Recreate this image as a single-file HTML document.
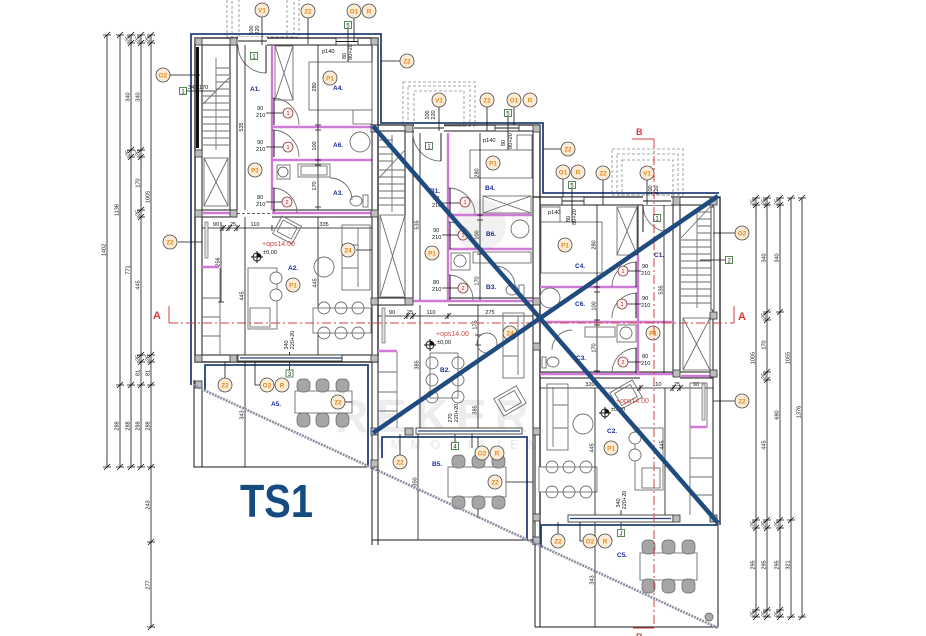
<!DOCTYPE html>
<html><head><meta charset="utf-8">
<style>
html,body{margin:0;padding:0;background:#fff}
svg{display:block;font-family:"Liberation Sans",Arial,sans-serif}
.w{stroke:#1a1a1a;stroke-width:1;fill:none}
.w2{stroke:#1a1a1a;stroke-width:1.3;fill:none}
.p{stroke:#cf7ad6;stroke-width:2.4;fill:none}
.f{stroke:#6e6e6e;stroke-width:.9;fill:none}
.ff{stroke:#6e6e6e;stroke-width:.9;fill:#fff}
.col{fill:#bdbdbd;stroke:#333;stroke-width:.8}
.nv{stroke:#24407a;stroke-width:1.8;fill:none}
.d{stroke:#111;stroke-width:.8;fill:none}
.gd{stroke:#8a8a8a;stroke-dasharray:3 2;fill:none;stroke-width:.8}
.lb circle{fill:#fcecd6;stroke:#4a4a4a;stroke-width:.8}
.lb text{fill:#e38a1c;font-size:6.3px;font-weight:bold;text-anchor:middle}
.dn circle{fill:#fdf0ec;stroke:#8b3a3a;stroke-width:.8}
.dn text{fill:#a03030;font-size:5.5px;text-anchor:middle}
.rm{fill:#1d2b9a;font-size:6.5px;font-weight:bold}
.dt{font-size:5.6px;fill:#111}
.dtr{font-size:5.6px;fill:#111;text-anchor:middle}
.ch{fill:#a6a6a6;stroke:#666;stroke-width:.7}
.bx rect{fill:#fff;stroke:#2a6a2a;stroke-width:.8}
.bx text{font-size:6px;fill:#222;text-anchor:middle}
.red{fill:#d24a4a;font-size:7px}
.win{fill:#fff;stroke:#222;stroke-width:.8}
</style></head><body>
<svg width="926" height="636" viewBox="0 0 926 636" xmlns="http://www.w3.org/2000/svg">
<rect width="926" height="636" fill="#fff"/>

<!-- watermark -->
<g fill="#ededed" font-weight="bold">
<circle cx="480" cy="225" r="26" fill="#f1f1f1"/>
<text x="335" y="432" font-size="46" letter-spacing="8">REKER</text>
<text x="378" y="449" font-size="13" letter-spacing="9">IMMOBILIEN</text>
</g>

<!-- ============ LEFT DIMENSIONS ============ -->
<g class="d">
<line x1="107" y1="35" x2="107" y2="467"/>
<line x1="120" y1="35" x2="120" y2="467"/>
<line x1="131" y1="35" x2="131" y2="467"/>
<line x1="141" y1="35" x2="141" y2="467"/>
<line x1="151" y1="35" x2="151" y2="627"/>
<path d="M103,35h8M104,38l6,-6M103,467h8M104,470l6,-6
M116,35h8M117,38l6,-6M116,385h8M117,388l6,-6M116,467h8M117,470l6,-6
M127,35h8M128,38l6,-6M127,43h8M128,46l6,-6M127,150h8M128,153l6,-6M127,157h8M128,160l6,-6M127,385h8M128,388l6,-6M127,467h8M128,470l6,-6
M137,35h8M138,38l6,-6M137,43h8M138,46l6,-6M137,150h8M138,153l6,-6M137,157h8M138,160l6,-6M137,210h8M138,213l6,-6M137,217h8M138,220l6,-6M137,355h8M138,358l6,-6M137,362h8M138,365l6,-6M137,385h8M138,388l6,-6M137,467h8M138,470l6,-6
M147,35h8M148,38l6,-6M147,43h8M148,46l6,-6M147,355h8M148,358l6,-6M147,362h8M148,365l6,-6M147,385h8M148,388l6,-6M147,467h8M148,470l6,-6M147,542h8M148,545l6,-6M147,627h8M148,630l6,-6"/>
</g>
<g class="dtr">
<text transform="translate(105.5,250) rotate(-90)">1402</text>
<text transform="translate(118.5,210) rotate(-90)">1136</text>
<text transform="translate(118.5,426) rotate(-90)">288</text>
<text transform="translate(129.5,39) rotate(-90)">25</text>
<text transform="translate(129.5,97) rotate(-90)">340</text>
<text transform="translate(129.5,153) rotate(-90)">25</text>
<text transform="translate(129.5,270) rotate(-90)">771</text>
<text transform="translate(129.5,426) rotate(-90)">288</text>
<text transform="translate(139.5,39) rotate(-90)">25</text>
<text transform="translate(139.5,97) rotate(-90)">340</text>
<text transform="translate(139.5,153) rotate(-90)">25</text>
<text transform="translate(139.5,183) rotate(-90)">170</text>
<text transform="translate(139.5,213) rotate(-90)">25</text>
<text transform="translate(139.5,285) rotate(-90)">445</text>
<text transform="translate(139.5,358) rotate(-90)">25</text>
<text transform="translate(139.5,373) rotate(-90)">81</text>
<text transform="translate(139.5,426) rotate(-90)">288</text>
<text transform="translate(149.5,39) rotate(-90)">25</text>
<text transform="translate(149.5,197) rotate(-90)">1005</text>
<text transform="translate(149.5,358) rotate(-90)">25</text>
<text transform="translate(149.5,373) rotate(-90)">81</text>
<text transform="translate(149.5,426) rotate(-90)">288</text>
<text transform="translate(149.5,505) rotate(-90)">243</text>
<text transform="translate(149.5,585) rotate(-90)">277</text>
</g>

<!-- ============ RIGHT DIMENSIONS ============ -->
<g class="d">
<line x1="756" y1="198" x2="756" y2="617"/>
<line x1="767" y1="198" x2="767" y2="617"/>
<line x1="780" y1="198" x2="780" y2="617"/>
<line x1="791" y1="198" x2="791" y2="617"/>
<line x1="802" y1="198" x2="802" y2="617"/>
<path d="M752,198h8M753,201l6,-6M752,205h8M753,208l6,-6M752,520h8M753,523l6,-6M752,528h8M753,531l6,-6M752,610h8M753,613l6,-6M752,617h8M753,620l6,-6
M763,198h8M764,201l6,-6M763,205h8M764,208l6,-6M763,312h8M764,315l6,-6M763,320h8M764,323l6,-6M763,372h8M764,375l6,-6M763,380h8M764,383l6,-6M763,520h8M764,523l6,-6M763,528h8M764,531l6,-6M763,610h8M764,613l6,-6M763,617h8M764,620l6,-6
M776,198h8M777,201l6,-6M776,205h8M777,208l6,-6M776,312h8M777,315l6,-6M776,520h8M777,523l6,-6M776,528h8M777,531l6,-6M776,610h8M777,613l6,-6M776,617h8M777,620l6,-6
M787,198h8M788,201l6,-6M787,520h8M788,523l6,-6M787,617h8M788,620l6,-6
M798,198h8M799,201l6,-6M798,617h8M799,620l6,-6"/>
</g>
<g class="dtr">
<text transform="translate(754.5,202) rotate(-90)">25</text>
<text transform="translate(754.5,358) rotate(-90)">1005</text>
<text transform="translate(754.5,524) rotate(-90)">25</text>
<text transform="translate(754.5,565) rotate(-90)">295</text>
<text transform="translate(754.5,614) rotate(-90)">25</text>
<text transform="translate(765.5,202) rotate(-90)">25</text>
<text transform="translate(765.5,258) rotate(-90)">340</text>
<text transform="translate(765.5,316) rotate(-90)">25</text>
<text transform="translate(765.5,345) rotate(-90)">170</text>
<text transform="translate(765.5,376) rotate(-90)">25</text>
<text transform="translate(765.5,445) rotate(-90)">445</text>
<text transform="translate(765.5,524) rotate(-90)">25</text>
<text transform="translate(765.5,565) rotate(-90)">295</text>
<text transform="translate(765.5,614) rotate(-90)">25</text>
<text transform="translate(778.5,202) rotate(-90)">25</text>
<text transform="translate(778.5,258) rotate(-90)">340</text>
<text transform="translate(778.5,415) rotate(-90)">680</text>
<text transform="translate(778.5,524) rotate(-90)">25</text>
<text transform="translate(778.5,565) rotate(-90)">295</text>
<text transform="translate(778.5,614) rotate(-90)">25</text>
<text transform="translate(789.5,358) rotate(-90)">1055</text>
<text transform="translate(789.5,565) rotate(-90)">321</text>
<text transform="translate(800.5,412) rotate(-90)">1376</text>
</g>

<!-- ============ TOP DASHED TERRACES ============ -->
<rect class="gd" x="227" y="-10" width="72" height="47"/>
<rect class="gd" x="232" y="-6" width="62" height="43"/>
<rect class="gd" x="239" y="-2" width="48" height="39"/>
<rect class="gd" x="403" y="82" width="72" height="44"/>
<rect class="gd" x="408" y="86" width="62" height="40"/>
<rect class="gd" x="414" y="91" width="50" height="35"/>
<rect class="gd" x="612" y="149" width="71" height="46"/>
<rect class="gd" x="617" y="154" width="61" height="41"/>
<rect class="gd" x="622" y="160" width="51" height="35"/>

<!-- navy outline -->
<polyline class="nv" points="191,385 191,34 381,34 381,123 543,123 543,193 719,193"/>

<!-- ============ UNIT A ============ -->
<rect class="w2" x="195" y="38" width="183" height="324"/>
<rect class="w" x="202" y="45" width="170" height="310"/>
<rect x="238" y="37" width="29" height="9" fill="#fff"/>
<line class="w" x1="238" y1="41" x2="267" y2="41"/>
<rect class="win" x="336" y="38" width="22" height="7"/>
<line class="w" x1="336" y1="41.5" x2="358" y2="41.5"/>
<!-- walls -->
<path class="w" d="M230,45V210M237,45V210M202,210H237M272,210H372M202,217H237M272,217H372"/>
<path d="M237,213.5H272" stroke="#333" stroke-width=".7" stroke-dasharray="3 2"/>
<path class="p" d="M272,46V210M272,127H372M272,160H372M272,213H372M203,213H230"/>
<!-- stairs A -->
<path class="f" d="M203,96H229M203,103H229M203,110H229M203,117H229M203,124H229M203,131H229M203,138H229M203,145H229M216,68H229M216,75H229M216,82H229M216,89H229M203,104L229,78M216,58V150"/>
<rect class="f" x="204" y="158" width="24" height="48"/>
<path class="f" d="M204,158L228,206M228,158L204,206"/>
<line x1="197.5" y1="47" x2="197.5" y2="148" stroke="#111" stroke-width="3"/>
<!-- doors A -->
<path class="f" d="M272,98A27,27 0 0 1 299,125M272,130A27,27 0 0 1 299,157M272,188A25,25 0 0 1 297,213M238,45A28,28 0 0 0 266,73"/>
<path class="w" d="M274,98V125M274,130V157M274,188V212M266,45V73"/>
<!-- A4 -->
<rect class="f" x="309" y="62" width="63" height="48"/>
<rect class="f" x="353" y="110" width="19" height="14"/>
<rect class="f" x="275" y="46" width="18" height="54"/>
<path class="f" d="M275,46L293,100M293,46L275,100"/>
<line class="d" x1="318" y1="45" x2="318" y2="210"/>
<path class="d" d="M315,125h6M315,130h6M315,160h6M315,165h6M315,207h6"/>
<g class="dtr">
<text transform="translate(316,87) rotate(-90)">280</text>
<text transform="translate(316,146) rotate(-90)">100</text>
<text transform="translate(316,186) rotate(-90)">170</text>
<text transform="translate(243,127) rotate(-90)">535</text>
<text transform="translate(352,52) rotate(-90)">80+20</text>
<text transform="translate(346,56) rotate(-90)">80</text>
<text transform="translate(253,30) rotate(-90)">100</text>
<text transform="translate(259,30) rotate(-90)">220</text>
</g>
<line class="d" x1="245" y1="45" x2="245" y2="210"/>
<text class="dt" x="322" y="53">p140</text>
<line class="d" x1="348" y1="29" x2="348" y2="62"/>
<!-- A6, A3 -->
<circle class="f" cx="360" cy="142" r="10"/>
<circle class="f" cx="283" cy="172" r="5"/>
<rect class="f" x="277" y="165" width="13" height="14"/>
<rect class="f" x="298" y="164" width="32" height="13"/>
<rect class="f" x="301" y="166" width="26" height="9"/>
<path class="f" d="M330,178A22,22 0 0 1 352,200"/>
<ellipse class="f" cx="356" cy="201" rx="6" ry="5"/>
<rect class="f" x="363" y="195" width="5" height="12"/>
<!-- door labels A -->
<g class="dt"><text x="257" y="110">90</text><text x="256" y="117">210</text>
<text x="257" y="144">90</text><text x="256" y="151">210</text>
<text x="257" y="199">80</text><text x="256" y="206">210</text></g>
<path class="d" d="M266,113H283M266,147H283M266,202H282"/>
<g class="dn"><circle cx="288" cy="113" r="5"/><text x="288" y="115">1</text>
<circle cx="288" cy="147" r="5"/><text x="288" y="149">1</text>
<circle cx="287" cy="202" r="5"/><text x="287" y="204">2</text></g>
<!-- A2 living -->
<line class="d" x1="202" y1="228" x2="372" y2="228"/>
<path class="d" d="M202,225v6M223,225v6M220,231l6,-6M229,225v6M226,231l6,-6M237,225v6M234,231l6,-6M272,225v6M372,225v6"/>
<g class="dtr"><text x="216" y="226">90</text><text x="233" y="226">25</text><text x="255" y="226">110</text><text x="324" y="226">335</text></g>
<rect x="205" y="222" width="3" height="36" fill="#e4e4e4" stroke="#555" stroke-width=".6"/>
<path class="p" d="M202,267H219"/>
<path class="f" d="M220,268V355M202,298H220M202,317H220M202,336H220"/>
<line class="d" x1="221" y1="222" x2="221" y2="302"/>
<path class="d" d="M218,302h6"/>
<line class="d" x1="245" y1="217" x2="245" y2="355"/>
<line class="d" x1="318" y1="217" x2="318" y2="355"/>
<g class="dtr">
<text transform="translate(219.5,262) rotate(-90)">256</text>
<text transform="translate(243.5,296) rotate(-90)">445</text>
<text transform="translate(316.5,283) rotate(-90)">445</text>
<text transform="translate(288,345) rotate(-90)">340</text>
<text transform="translate(294,340) rotate(-90)">220+20</text>
</g>
<rect class="f" x="248" y="268" width="29" height="61"/>
<rect class="f" x="250" y="308" width="20" height="19"/>
<circle class="ff" cx="276" cy="278" r="6"/>
<circle class="ff" cx="276" cy="295" r="6"/>
<g transform="rotate(28 287 230)"><rect class="f" x="276" y="220" width="22" height="20"/><rect class="f" x="279" y="223" width="16" height="13"/></g>
<circle cx="257" cy="257" r="4" class="w"/>
<path class="w" d="M251,257H263M257,251V263"/>
<path d="M257,253A4,4 0 0 1 261,257H257Z" fill="#111"/>
<text class="red" x="262" y="246">+ops14.00</text>
<text class="dt" x="263" y="254" font-size="6.5">±0,00</text>
<circle class="f" cx="324" cy="267" r="10"/>
<rect class="f" x="342" y="225" width="28" height="65"/>
<path class="f" d="M358,228V287M342,245H358M342,268H358"/>
<rect class="ff" x="313" y="308" width="58" height="25"/>
<g class="f" fill="#fff"><circle cx="324" cy="308" r="6"/><circle cx="341" cy="308" r="6"/><circle cx="358" cy="308" r="6"/><circle cx="324" cy="333" r="6"/><circle cx="341" cy="333" r="6"/><circle cx="358" cy="333" r="6"/></g>
<line class="d" x1="289.5" y1="352" x2="289.5" y2="370"/>
<!-- A bottom wall -->
<rect class="win" x="238" y="355" width="104" height="6"/>
<line x1="240" y1="358" x2="342" y2="358" stroke="#24407a" stroke-width="1.2"/>
<!-- A5 balcony -->
<path class="w" d="M194,380V467H367M202,388V467"/>
<path class="nv" d="M205,390V365H368V467" stroke-width="1.5"/>
<line class="d" x1="245" y1="362" x2="245" y2="467"/>
<text class="dtr" transform="translate(243.5,415) rotate(-90)">343</text>
<path class="d" d="M225,362V378M255,362V385H260"/>
<rect class="ff" x="295" y="391" width="57" height="22"/>
<g class="ch"><rect x="297" y="379" width="13" height="13" rx="5"/><rect x="316" y="379" width="13" height="13" rx="5"/><rect x="336" y="379" width="13" height="13" rx="5"/>
<rect x="297" y="413" width="13" height="14" rx="5"/><rect x="316" y="413" width="13" height="14" rx="5"/><rect x="336" y="413" width="13" height="14" rx="5"/></g>
<line class="d" x1="345" y1="402" x2="352" y2="402"/>

<!-- ============ UNIT B ============ -->
<path class="w2" d="M372,125H540V545"/>
<path class="w" d="M378,131H533V545M372,125V545M378,131V545"/>
<rect x="414" y="124" width="30" height="8" fill="#fff"/>
<line class="w" x1="414" y1="128" x2="444" y2="128"/>
<rect class="win" x="495" y="125" width="24" height="6"/>
<line class="w" x1="495" y1="128" x2="519" y2="128"/>
<path class="w" d="M405,131V300M413,131V300M378,298H413M448,298H533M378,305H413M448,305H533"/>
<path d="M413,301.5H448" stroke="#333" stroke-width=".7" stroke-dasharray="3 2"/>
<path class="p" d="M448,133V300M448,215H532M448,249H532M413,301H533M378,351H397"/>
<!-- stairs B -->
<path class="f" d="M379,170H405M379,177H405M379,184H405M379,191H405M379,198H405M379,205H405M379,140H393M379,147H393M379,154H393M379,161H393M379,178L405,150M392,135V212"/>
<rect class="f" x="380" y="215" width="25" height="82"/>
<path class="f" d="M380,215L405,297M405,215L380,297"/>
<!-- doors B -->
<path class="f" d="M448,188A27,27 0 0 1 475,215M448,222A27,27 0 0 1 475,249M448,275A25,25 0 0 1 473,300M413,133A28,28 0 0 0 441,161"/>
<path class="w" d="M450,188V215M450,222V249M450,275V300M441,133V161"/>
<g class="dt"><text x="433" y="200">90</text><text x="432" y="207">210</text>
<text x="433" y="232">90</text><text x="432" y="239">210</text>
<text x="433" y="284">80</text><text x="432" y="291">210</text></g>
<path class="d" d="M442,203H460M442,235H458M442,288H458"/>
<g class="dn"><circle cx="465" cy="202" r="5"/><text x="465" y="204">1</text>
<circle cx="463" cy="235" r="5"/><text x="463" y="237">1</text>
<circle cx="463" cy="288" r="5"/><text x="463" y="290">2</text></g>
<!-- B4 etc -->
<rect class="f" x="470" y="150" width="62" height="28"/>
<rect class="f" x="517" y="135" width="15" height="15"/>
<rect class="f" x="483" y="196" width="48" height="17"/>
<path class="f" d="M483,196L531,213M531,196L483,213"/>
<line class="d" x1="480" y1="133" x2="480" y2="300"/>
<path class="d" d="M477,215h6M477,220h6M477,249h6M477,254h6M477,298h6"/>
<line class="d" x1="420" y1="133" x2="420" y2="300"/>
<g class="dtr">
<text transform="translate(478.5,173) rotate(-90)">280</text>
<text transform="translate(478.5,235) rotate(-90)">100</text>
<text transform="translate(478.5,281) rotate(-90)">170</text>
<text transform="translate(418.5,225) rotate(-90)">535</text>
<text transform="translate(512,141) rotate(-90)">80+20</text>
<text transform="translate(505,143) rotate(-90)">80</text>
<text transform="translate(429,115) rotate(-90)">100</text>
<text transform="translate(435,115) rotate(-90)">220</text>
</g>
<text class="dt" x="483" y="142">p140</text>
<line class="d" x1="508" y1="117" x2="508" y2="150"/>
<circle class="f" cx="520" cy="229" r="9"/>
<rect class="f" x="451" y="253" width="19" height="17"/>
<circle class="f" cx="460" cy="261" r="6"/>
<rect class="f" x="473" y="252" width="58" height="11"/>
<path class="f" d="M495,266A20,20 0 0 1 515,286"/>
<ellipse class="f" cx="512" cy="290" rx="6" ry="5"/>
<rect class="f" x="519" y="285" width="5" height="11"/>
<!-- B2 -->
<line class="d" x1="378" y1="316" x2="533" y2="316"/>
<path class="d" d="M378,313v6M407,313v6M404,319l6,-6M413,313v6M410,319l6,-6M448,313v6M445,319l6,-6M533,313v6"/>
<g class="dtr"><text x="392" y="314">90</text><text x="410" y="314">25</text><text x="431" y="314">110</text><text x="490" y="314">275</text></g>
<rect x="382" y="308" width="3" height="35" fill="#e4e4e4" stroke="#555" stroke-width=".6"/>
<path class="f" d="M397,352V428M378,372H397M378,392H397M378,411H397"/>
<line class="d" x1="420" y1="305" x2="420" y2="428"/>
<line class="d" x1="478" y1="305" x2="478" y2="428"/>
<path class="d" d="M475,335h6M475,345h6"/>
<g class="dtr">
<text transform="translate(418.5,365) rotate(-90)">385</text>
<text transform="translate(476.5,325) rotate(-90)">175</text>
<text transform="translate(476.5,410) rotate(-90)">385</text>
<text transform="translate(452,418) rotate(-90)">270</text>
<text transform="translate(458,413) rotate(-90)">220+20</text>
</g>
<rect class="f" x="430" y="353" width="28" height="45"/>
<g class="f" fill="#fff"><circle cx="432" cy="363" r="6"/><circle cx="432" cy="380" r="6"/><circle cx="432" cy="397" r="6"/><circle cx="458" cy="363" r="6"/><circle cx="458" cy="380" r="6"/><circle cx="458" cy="397" r="6"/></g>
<rect class="f" x="503" y="313" width="21" height="65"/>
<path class="f" d="M518,316V375M503,333H518M503,356H518"/>
<circle class="f" cx="487" cy="343" r="10"/>
<g transform="rotate(-30 510 401)"><rect class="f" x="497" y="391" width="26" height="20"/><rect class="f" x="501" y="394" width="18" height="14"/></g>
<circle cx="430" cy="345" r="4" class="w"/>
<path class="w" d="M424,345H436M430,339V351"/>
<path d="M430,341A4,4 0 0 1 434,345H430Z" fill="#111"/>
<text class="red" x="436" y="336">+ops14.00</text>
<text class="dt" x="437" y="344" font-size="6.5">±0,00</text>
<line class="d" x1="455" y1="428" x2="455" y2="442"/>
<rect class="win" x="416" y="428" width="106" height="6"/>
<line x1="418" y1="431" x2="520" y2="431" stroke="#24407a" stroke-width="1.2"/>
<!-- B5 -->
<path class="w" d="M372,540H533"/>
<path class="nv" d="M382,458V437H527V540" stroke-width="1.5"/>
<line class="d" x1="418" y1="434" x2="418" y2="540"/>
<text class="dtr" transform="translate(416.5,482) rotate(-90)">350</text>
<path class="d" d="M400,434V455M472,434V448M478,437V518M502,482H533"/>
<rect class="ff" x="448" y="467" width="58" height="30"/>
<g class="ch"><rect x="452" y="455" width="13" height="13" rx="5"/><rect x="472" y="455" width="13" height="13" rx="5"/><rect x="492" y="455" width="13" height="13" rx="5"/>
<rect x="452" y="496" width="13" height="13" rx="5"/><rect x="472" y="496" width="13" height="13" rx="5"/><rect x="492" y="496" width="13" height="13" rx="5"/></g>

<!-- ============ UNIT C ============ -->
<path class="w2" d="M533,197H720V525"/>
<path class="w" d="M540,205H713V522M535,428V627M540,525V627"/>
<rect class="win" x="562" y="197" width="22" height="8"/>
<line class="w" x1="562" y1="201" x2="584" y2="201"/>
<rect x="643" y="196" width="28" height="9" fill="#fff"/>
<line class="w" x1="643" y1="201" x2="671" y2="201"/>
<path class="w" d="M673,205V372M680,205V372M638,205V255"/>
<path class="w" d="M540,372H673M540,378H640M680,372H713M680,378H713"/>
<path class="p" d="M638,255V373M540,287H637M540,322H673M540,374H673M681,376H711"/>
<!-- stairs C -->
<path class="f" d="M681,240H711M681,247H711M681,254H711M681,261H711M681,268H711M681,275H711M681,282H711M681,289H711M681,296H711M681,303H711M697,212H711M697,219H711M697,226H711M697,233H711M681,238L711,206M697,208V308"/>
<rect x="711" y="207" width="3" height="103" fill="#fff" stroke="#222" stroke-width=".8"/>
<rect class="f" x="683" y="318" width="27" height="52"/>
<path class="f" d="M683,318L710,370M710,318L683,370"/>
<!-- C4 etc -->
<rect class="f" x="541" y="222" width="61" height="51"/>
<rect class="f" x="541" y="207" width="19" height="15"/>
<rect class="f" x="617" y="207" width="20" height="48"/>
<path class="f" d="M617,207L637,255M637,207L617,255"/>
<line class="d" x1="597" y1="205" x2="597" y2="373"/>
<path class="d" d="M594,287h6M594,292h6M594,320h6M594,325h6M594,371h6"/>
<line class="d" x1="664" y1="205" x2="664" y2="373"/>
<g class="dtr">
<text transform="translate(595.5,245) rotate(-90)">280</text>
<text transform="translate(595.5,306) rotate(-90)">100</text>
<text transform="translate(595.5,348) rotate(-90)">170</text>
<text transform="translate(662.5,290) rotate(-90)">535</text>
<text transform="translate(576,217) rotate(-90)">80+20</text>
<text transform="translate(570,219) rotate(-90)">80</text>
<text transform="translate(652,190) rotate(-90)">100</text>
<text transform="translate(658,190) rotate(-90)">220</text>
</g>
<text class="dt" x="548" y="214">p140</text>
<line class="d" x1="572" y1="189" x2="572" y2="222"/>
<path class="f" d="M637,262A25,25 0 0 0 612,287M637,293A25,25 0 0 0 612,318M637,348A25,25 0 0 0 612,373M643,205A27,27 0 0 0 670,232"/>
<path class="w" d="M636,262V287M636,293V318M636,348V373M643,205V232"/>
<g class="dt"><text x="642" y="268">90</text><text x="641" y="275">210</text>
<text x="642" y="300">90</text><text x="641" y="307">210</text>
<text x="642" y="358">80</text><text x="641" y="365">210</text></g>
<path class="d" d="M628,271H641M627,304H641M628,362H641"/>
<g class="dn"><circle cx="623" cy="271" r="5"/><text x="623" y="273">1</text>
<circle cx="622" cy="304" r="5"/><text x="622" y="306">1</text>
<circle cx="623" cy="362" r="5"/><text x="623" y="364">2</text></g>
<circle class="f" cx="550" cy="298" r="10"/>
<rect class="f" x="617" y="325" width="19" height="17"/>
<circle class="f" cx="626" cy="333" r="6"/>
<rect class="f" x="585" y="327" width="30" height="10"/>
<path class="f" d="M572,330A20,20 0 0 0 552,350"/>
<ellipse class="f" cx="553" cy="362" rx="6" ry="5"/>
<rect class="f" x="542" y="357" width="4" height="11"/>
<!-- C2 -->
<line class="d" x1="540" y1="388" x2="713" y2="388"/>
<path class="d" d="M540,385v6M640,385v6M637,391l6,-6M673,385v6M670,391l6,-6M680,385v6M677,391l6,-6M713,385v6"/>
<g class="dtr"><text x="590" y="386">320</text><text x="657" y="386">110</text><text x="677" y="386">25</text><text x="696" y="386">90</text></g>
<rect class="f" x="547" y="384" width="21" height="66"/>
<path class="f" d="M553,387V447M553,405H568M553,428H568"/>
<circle class="f" cx="583" cy="424" r="10"/>
<rect class="ff" x="539" y="467" width="58" height="25"/>
<g class="f" fill="#fff"><circle cx="552" cy="467" r="6"/><circle cx="569" cy="467" r="6"/><circle cx="586" cy="467" r="6"/><circle cx="552" cy="492" r="6"/><circle cx="569" cy="492" r="6"/><circle cx="586" cy="492" r="6"/></g>
<rect class="f" x="635" y="428" width="28" height="62"/>
<rect class="f" x="642" y="468" width="18" height="20"/>
<circle class="ff" cx="635" cy="438" r="6"/>
<circle class="ff" cx="635" cy="455" r="6"/>
<line class="d" x1="595" y1="388" x2="595" y2="627"/>
<line class="d" x1="665" y1="388" x2="665" y2="515"/>
<g class="dtr">
<text transform="translate(593.5,448) rotate(-90)">445</text>
<text transform="translate(663.5,445) rotate(-90)">445</text>
<text transform="translate(620,503) rotate(-90)">340</text>
<text transform="translate(626,500) rotate(-90)">220+20</text>
<text transform="translate(593.5,580) rotate(-90)">343</text>
</g>
<rect class="f" x="690" y="383" width="17" height="44"/>
<rect x="702" y="384" width="3" height="36" fill="#e4e4e4" stroke="#555" stroke-width=".6"/>
<path class="p" d="M690,427H707"/>
<path class="f" d="M690,428V515M690,458H713M690,477H713M690,495H713"/>
<g transform="rotate(-30 626 395)"><rect class="f" x="613" y="385" width="26" height="20"/><rect class="f" x="617" y="388" width="18" height="14"/></g>
<circle cx="605" cy="413" r="4" class="w"/>
<path class="w" d="M599,413H611M605,407V419"/>
<path d="M605,409A4,4 0 0 1 609,413H605Z" fill="#111"/>
<text class="red" x="616" y="403">+ops14.00</text>
<text class="dt" x="611" y="411" font-size="6.5">±0,00</text>
<line class="d" x1="621" y1="510" x2="621" y2="529"/>
<rect class="win" x="568" y="515" width="105" height="7"/>
<line x1="570" y1="518.5" x2="671" y2="518.5" stroke="#24407a" stroke-width="1.2"/>
<!-- C5 -->
<path class="w" d="M535,627H718V522"/>
<path class="nv" d="M541,547V525H718" stroke-width="1.5"/>
<path class="d" d="M558,522V534M580,522V541H583"/>
<rect class="ff" x="640" y="553" width="57" height="27"/>
<g class="ch"><rect x="642" y="540" width="13" height="14" rx="5"/><rect x="662" y="540" width="13" height="14" rx="5"/><rect x="682" y="540" width="13" height="14" rx="5"/>
<rect x="642" y="579" width="13" height="14" rx="5"/><rect x="662" y="579" width="13" height="14" rx="5"/><rect x="682" y="579" width="13" height="14" rx="5"/></g>
<circle cx="709" cy="617" r="4" fill="#aaa" stroke="#555" stroke-width=".7"/>

<!-- columns -->
<g class="col">
<rect x="195" y="38" width="7" height="7"/><rect x="230" y="38" width="7" height="7"/><rect x="371" y="38" width="7" height="7"/>
<rect x="195" y="150" width="7" height="7"/><rect x="195" y="210" width="7" height="7"/><rect x="230" y="210" width="7" height="7"/>
<rect x="371" y="125" width="7" height="7"/><rect x="371" y="210" width="7" height="7"/><rect x="371" y="298" width="7" height="7"/>
<rect x="195" y="355" width="7" height="7"/><rect x="230" y="355" width="7" height="7"/><rect x="371" y="355" width="7" height="7"/>
<rect x="195" y="381" width="7" height="7"/>
<rect x="405" y="125" width="8" height="7"/><rect x="533" y="125" width="7" height="7"/>
<rect x="405" y="298" width="8" height="7"/><rect x="533" y="298" width="7" height="7"/><rect x="533" y="343" width="7" height="7"/>
<rect x="371" y="428" width="7" height="7"/><rect x="405" y="428" width="8" height="7"/><rect x="533" y="428" width="7" height="7"/>
<rect x="371" y="460" width="7" height="7"/><rect x="533" y="514" width="7" height="7"/>
<rect x="673" y="197" width="7" height="8"/><rect x="710" y="197" width="7" height="8"/>
<rect x="710" y="312" width="7" height="7"/><rect x="673" y="370" width="7" height="7"/><rect x="710" y="370" width="7" height="7"/>
<rect x="673" y="515" width="7" height="7"/><rect x="710" y="515" width="7" height="7"/><rect x="533" y="537" width="7" height="7"/>
</g>

<!-- leaders for labels -->
<path class="d" d="M262,17V45M308,18V44M354,18V42M170,75H200M186,91H215M178,242H202M356,250H372M400,61H381
M439,107V131M487,107V131M514,107V125M561,149H543M563,179V197M603,180V205M647,180V205M735,233H713M733,260H700M735,401H713"/>

<!-- boxes -->
<g class="bx">
<rect x="250.5" y="52.5" width="7" height="7"/><text x="254" y="58.3">1</text>
<rect x="179.5" y="87.5" width="7" height="7"/><text x="183" y="93.3">1</text>
<rect x="344.5" y="21.5" width="7" height="7"/><text x="348" y="27.3">5</text>
<rect x="286" y="370" width="7" height="7"/><text x="289.5" y="375.8">3</text>
<rect x="425.5" y="142.5" width="7" height="7"/><text x="429" y="148.3">1</text>
<rect x="504.5" y="109.5" width="7" height="7"/><text x="508" y="115.3">5</text>
<rect x="451.5" y="442.5" width="7" height="7"/><text x="455" y="448.3">4</text>
<rect x="568.5" y="181.5" width="7" height="7"/><text x="572" y="187.3">5</text>
<rect x="653.5" y="214.5" width="7" height="7"/><text x="657" y="220.3">1</text>
<rect x="725.5" y="256.5" width="7" height="7"/><text x="729" y="262.3">2</text>
<rect x="617.5" y="529.5" width="7" height="7"/><text x="621" y="535.3">J</text>
</g>
<text class="dt" x="188" y="89" font-size="4.5">340/170</text>

<!-- room labels -->
<g class="rm">
<text x="250" y="91">A1.</text><text x="333" y="90">A4.</text><text x="333" y="147">A6.</text><text x="333" y="195">A3.</text>
<text x="288" y="270">A2.</text><text x="271" y="406">A5.</text>
<text x="430" y="193">B1.</text><text x="485" y="190">B4.</text><text x="486" y="236">B6.</text><text x="486" y="289">B3.</text>
<text x="440" y="372">B2.</text><text x="432" y="466">B5.</text>
<text x="575" y="268">C4.</text><text x="575" y="306">C6.</text><text x="576" y="360">C3.</text><text x="654" y="257">C1.</text>
<text x="607" y="433">C2.</text><text x="617" y="557">C5.</text>
</g>

<!-- orange circle labels -->
<g class="lb">
<circle cx="262" cy="10" r="7"/><text x="262" y="12.3">V1</text>
<circle cx="308" cy="11" r="7"/><text x="308" y="13.3">Z2</text>
<circle cx="354" cy="11" r="7"/><text x="354" y="13.3">O1</text>
<circle cx="369" cy="11" r="7"/><text x="369" y="13.3">R</text>
<circle cx="163" cy="75" r="7"/><text x="163" y="77.3">O2</text>
<circle cx="407" cy="61" r="7"/><text x="407" y="63.3">Z2</text>
<circle cx="330" cy="78" r="7"/><text x="330" y="80.3">P1</text>
<circle cx="255" cy="170" r="7"/><text x="255" y="172.3">P1</text>
<circle cx="170" cy="242" r="7"/><text x="170" y="244.3">Z2</text>
<circle cx="348" cy="250" r="7"/><text x="348" y="252.3">Z4</text>
<circle cx="293" cy="285" r="7"/><text x="293" y="287.3">P1</text>
<circle cx="225" cy="385" r="7"/><text x="225" y="387.3">Z2</text>
<circle cx="267" cy="385" r="7"/><text x="267" y="387.3">O2</text>
<circle cx="282" cy="385" r="7"/><text x="282" y="387.3">R</text>
<circle cx="338" cy="402" r="7"/><text x="338" y="404.3">Z2</text>
<circle cx="439" cy="100" r="7"/><text x="439" y="102.3">V1</text>
<circle cx="487" cy="100" r="7"/><text x="487" y="102.3">Z2</text>
<circle cx="514" cy="100" r="7"/><text x="514" y="102.3">O1</text>
<circle cx="530" cy="100" r="7"/><text x="530" y="102.3">R</text>
<circle cx="568" cy="149" r="7"/><text x="568" y="151.3">Z2</text>
<circle cx="493" cy="163" r="7"/><text x="493" y="165.3">P1</text>
<circle cx="432" cy="253" r="7"/><text x="432" y="255.3">P1</text>
<circle cx="510" cy="333" r="7"/><text x="510" y="335.3">Z4</text>
<circle cx="400" cy="462" r="7"/><text x="400" y="464.3">Z2</text>
<circle cx="482" cy="453" r="7"/><text x="482" y="455.3">O2</text>
<circle cx="497" cy="453" r="7"/><text x="497" y="455.3">R</text>
<circle cx="495" cy="482" r="7"/><text x="495" y="484.3">Z2</text>
<circle cx="563" cy="172" r="7"/><text x="563" y="174.3">O1</text>
<circle cx="578" cy="172" r="7"/><text x="578" y="174.3">R</text>
<circle cx="603" cy="173" r="7"/><text x="603" y="175.3">Z2</text>
<circle cx="647" cy="173" r="7"/><text x="647" y="175.3">V1</text>
<circle cx="742" cy="233" r="7"/><text x="742" y="235.3">O2</text>
<circle cx="565" cy="245" r="7"/><text x="565" y="247.3">P1</text>
<circle cx="653" cy="333" r="7"/><text x="653" y="335.3">P1</text>
<circle cx="742" cy="401" r="7"/><text x="742" y="403.3">Z2</text>
<circle cx="611" cy="448" r="7"/><text x="611" y="450.3">P1</text>
<circle cx="558" cy="541" r="7"/><text x="558" y="543.3">Z2</text>
<circle cx="590" cy="541" r="7"/><text x="590" y="543.3">O2</text>
<circle cx="605" cy="541" r="7"/><text x="605" y="543.3">R</text>
</g>

<!-- section lines -->
<g stroke="#d04040" stroke-width="1" fill="none">
<line x1="169" y1="323" x2="734" y2="323" stroke-dasharray="9 3 2 3"/>
<path d="M169,306V323M734,306V323"/>
<line x1="654" y1="139" x2="654" y2="628" stroke-dasharray="9 3 2 3"/>
<path d="M632,139H654M633,628H654"/>
</g>
<g fill="#d83a3a" font-weight="bold" font-size="11">
<text x="153" y="319">A</text>
<text x="738" y="320">A</text>
<text x="636" y="135" font-size="9">B</text>
<text x="636" y="640" font-size="9">B</text>
</g>

<!-- diagonal hatched line -->
<line x1="193" y1="385" x2="718" y2="628" stroke="#8a8fa2" stroke-width="2.6" stroke-dasharray="2 1"/>

<!-- big X -->
<line x1="373" y1="126" x2="718" y2="523" stroke="#1f4b7e" stroke-width="4.5"/>
<line x1="373" y1="433" x2="718" y2="196" stroke="#1f4b7e" stroke-width="4.5"/>

<!-- TS1 -->
<text x="240" y="517" font-size="46" font-weight="bold" fill="#154b80" textLength="73" lengthAdjust="spacingAndGlyphs">TS1</text>
</svg>
</body></html>
